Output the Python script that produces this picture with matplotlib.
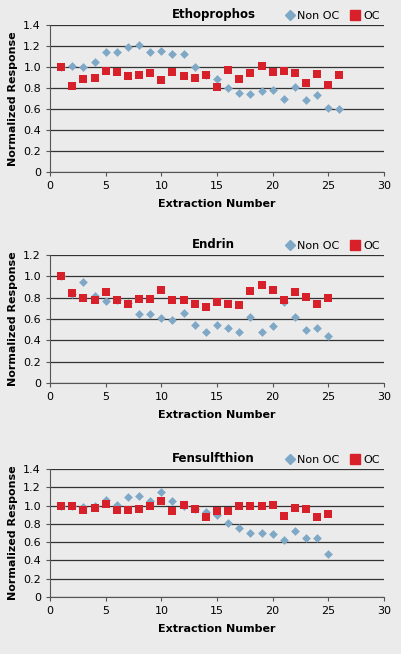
import matplotlib
matplotlib.use("Agg")
import matplotlib.pyplot as plt
from matplotlib.lines import Line2D

titles = ["Ethoprophos", "Endrin", "Fensulfthion"]
x1 = list(range(1, 27))
non1 = [1.00,1.01,1.00,1.05,1.14,1.14,1.19,1.21,1.14,1.15,1.12,1.12,1.00,0.92,0.89,0.80,0.75,0.74,0.77,0.78,0.70,0.81,0.69,0.73,0.61,0.60]
oc1 = [1.00,0.82,0.89,0.90,0.96,0.95,0.91,0.92,0.94,0.88,0.95,0.91,0.90,0.92,0.81,0.97,0.89,0.94,1.01,0.95,0.96,0.94,0.85,0.93,0.83,0.92]
x2 = list(range(1, 26))
non2 = [1.00,0.83,0.95,0.82,0.77,0.78,0.75,0.65,0.65,0.61,0.59,0.66,0.54,0.48,0.54,0.52,0.48,0.62,0.48,0.53,0.76,0.62,0.50,0.52,0.44]
oc2 = [1.00,0.84,0.80,0.78,0.85,0.78,0.74,0.79,0.79,0.87,0.78,0.78,0.74,0.71,0.76,0.74,0.73,0.86,0.92,0.87,0.78,0.85,0.81,0.74,0.80]
x3 = list(range(1, 26))
non3 = [1.00,0.99,0.98,1.00,1.06,1.01,1.09,1.10,1.05,1.15,1.05,1.00,0.96,0.93,0.90,0.81,0.75,0.70,0.70,0.69,0.62,0.72,0.64,0.65,0.47]
oc3 = [1.00,0.99,0.95,0.97,1.02,0.95,0.95,0.96,0.99,1.05,0.94,1.01,0.96,0.88,0.94,0.94,1.00,0.99,1.00,1.01,0.89,0.97,0.96,0.87,0.91]
ymaxes = [1.4, 1.2, 1.4]

BG = "#ebebeb"
BLUE = "#7ea8c6"
RED = "#d7202a"
fig = plt.figure(figsize=(4.01, 6.54), dpi=100, facecolor=BG)
W, H = 401, 654
boxes = [(25, 172), (255, 383), (469, 597)]
data = [(x1, non1, oc1), (x2, non2, oc2), (x3, non3, oc3)]
for i, (top, bot) in enumerate(boxes):
    ax = fig.add_axes([50/W, 1-bot/H, 334/W, (bot-top)/H], facecolor=BG)
    xs, nn, oo = data[i]
    ax.scatter(xs, nn, marker="D", s=20, color=BLUE, zorder=3, linewidths=0)
    ax.scatter(xs, oo, marker="s", s=40, color=RED, zorder=4, linewidths=0)
    ax.set_xlim(0, 30)
    ax.set_ylim(0, ymaxes[i])
    ax.set_xticks(range(0, 31, 5))
    yt = [round(0.2*k, 1) for k in range(int(round(ymaxes[i]/0.2))+1)]
    ax.set_yticks(yt)
    ax.set_yticklabels([f"{v:.1f}" if v > 0 else "0" for v in yt])
    ax.yaxis.grid(True, color="#333333", lw=0.9)
    ax.set_axisbelow(True)
    for s in ["top", "right"]:
        ax.spines[s].set_visible(False)
    ax.spines["left"].set_color("#555555")
    ax.spines["bottom"].set_color("#555555")
    ax.tick_params(labelsize=8, length=3, color="#555555")
    ax.set_xlabel("Extraction Number", fontsize=8, fontweight="bold", labelpad=6)
    ax.set_ylabel("Normalized Response", fontsize=8, fontweight="bold")
    ax.text(0.49, 1.03, titles[i], transform=ax.transAxes, ha="center", va="bottom", fontsize=8.5, fontweight="bold")
    handles = [Line2D([], [], marker="D", ls="", color=BLUE, markersize=5),
               Line2D([], [], marker="s", ls="", color=RED, markersize=7)]
    ax.legend(handles, ["Non OC", "OC"], loc="lower right", bbox_to_anchor=(1.0, 1.0), ncol=2,
              frameon=False, fontsize=8, handletextpad=0.1, columnspacing=0.8, borderaxespad=0, handlelength=1.2)
fig.savefig("out.png", dpi=100, facecolor=BG)
